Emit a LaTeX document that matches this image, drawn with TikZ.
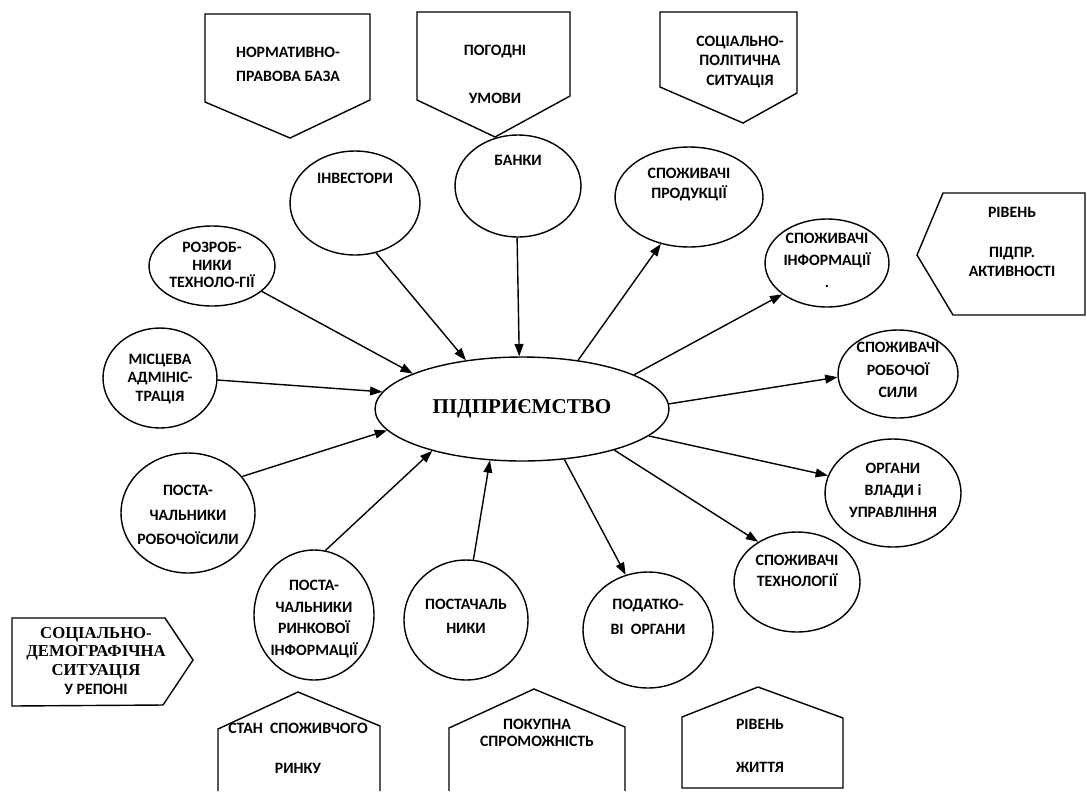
\documentclass[tikz,border=0pt]{standalone}
\usepackage{fontspec}
\setmainfont{Carlito}
\newfontfamily\timesfont{Liberation Serif}
\usetikzlibrary{shapes.geometric, arrows.meta}

\begin{document}
\begin{tikzpicture}[x=0.02cm, y=-0.02cm,
  circ/.style 2 args={ellipse, draw, line width=0.8pt, minimum width=#1cm, minimum height=#2cm, inner sep=0pt},
  lbl/.style={font=\bfseries\fontsize{9}{#1}\selectfont, align=center, inner sep=0pt},
  lbl/.default=12,
  box/.style={draw, line width=0.8pt},
  arr/.style={-{Triangle[length=7pt, width=5pt]}, line width=0.8pt}]
\useasboundingbox (0,0) rectangle (1087,791);

% Outer factors - boxes at the top
\draw[box] (205,14) -- (370,14) -- (370,100) -- (290,138) -- (205,102) -- cycle;
\node[lbl=13.7] (normbaza) at (288,64) {НОРМАТИВНО-\\ПРАВОВА БАЗА};
\draw[box] (417,12) -- (570,12) -- (570,96) -- (495,137) -- (417,100) -- cycle;
\node[lbl=27.4] (pogoda) at (495,74) {ПОГОДНІ\\УМОВИ};
\draw[box] (660,12) -- (797,12) -- (797,93) -- (743,123) -- (660,87) -- cycle;
\node[lbl=11] (socpol) at (740,62) {СОЦІАЛЬНО-\\ПОЛІТИЧНА\\СИТУАЦІЯ};

% Outer factors - side boxes
\draw[box] (917,255) -- (943,193) -- (1085,193) -- (1085,315) -- (953,315) -- cycle;
\node[lbl=10.8] (aktyv) at (1012,242) {РІВЕНЬ\\[12pt]ПІДПР.\\АКТИВНОСТІ};
\draw[box] (12,618) -- (165,618) -- (193,660) -- (163,705) -- (12,706) -- cycle;
\node[lbl=10.8] (socdem) at (96,661) {{\timesfont\fontsize{9.5}{10.8}\selectfont СОЦІАЛЬНО-}\\{\timesfont\fontsize{9.5}{10.8}\selectfont ДЕМОГРАФІЧНА}\\{\timesfont\fontsize{9.5}{10.8}\selectfont СИТУАЦІЯ}\\У РЕПОНІ};

% Outer factors - boxes at the bottom
\draw[box] (218,791) -- (218,729) -- (298,692) -- (380,726) -- (380,791);
\node[lbl=22.8] (rynok) at (298,748) {СТАН\ \ СПОЖИВЧОГО\\РИНКУ};
\draw[box] (449,791) -- (449,728) -- (534,689) -- (625,727) -- (625,791);
\node[lbl=9.9] (pokup) at (537,733) {ПОКУПНА\\СПРОМОЖНІСТЬ};
\draw[box] (682,717) -- (758,687) -- (843,718) -- (843,788) -- (682,788) -- cycle;
\node[lbl=24.5] (zhyttia) at (760,746) {РІВЕНЬ\\ЖИТТЯ};

% Centre
\node[circ={5.88}{2.08}, font=\timesfont\bfseries\fontsize{12}{14}\selectfont] (pidpr) at (522,409) {ПІДПРИЄМСТВО};

% Partners round the centre
\node[circ={2.52}{1.6}] (rozrob) at (212,266) {};
\node[lbl=9.9] (rozrobT) at (212,265) {РОЗРОБ-\\НИКИ\\ТЕХНОЛО-ГІЇ};
\node[circ={2.6}{2.08}] (invest) at (355,203) {};
\node[lbl] (investT) at (355,178) {ІНВЕСТОРИ};
\node[circ={2.52}{2.04}] (banky) at (518,186) {};
\node[lbl] (bankyT) at (518,160) {БАНКИ};
\node[circ={2.96}{2.0}] (spprod) at (689,197) {};
\node[lbl=11.4] (spprodT) at (689,185) {СПОЖИВАЧІ\\ПРОДУКЦІЇ};
\node[circ={2.48}{1.76}] (spinf) at (827,263) {};
\node[lbl=12.5] (spinfT) at (827,260) {СПОЖИВАЧІ\\ІНФОРМАЦІЇ\\.};
\node[circ={2.4}{1.76}] (sprob) at (898,374) {};
\node[lbl=12.8] (sprobT) at (898,370) {СПОЖИВАЧІ\\РОБОЧОЇ\\СИЛИ};
\node[circ={2.72}{2.16}] (organy) at (893,493) {};
\node[lbl=12.5] (organyT) at (893,490) {ОРГАНИ\\ВЛАДИ і\\УПРАВЛІННЯ};
\node[circ={2.52}{2.0}] (sptech) at (797,582) {};
\node[lbl=12] (sptechT) at (797,571) {СПОЖИВАЧІ\\ТЕХНОЛОГІЇ};
\node[circ={2.6}{2.32}] (podat) at (648,630) {};
\node[lbl=14] (podatT) at (648,617) {ПОДАТКО-\\ВІ\ \ ОРГАНИ};
\node[circ={2.48}{2.4}] (postach) at (466,620) {};
\node[lbl=13.7] (postachT) at (466,616) {ПОСТАЧАЛЬ\\НИКИ};
\node[circ={2.4}{2.6}] (rynk) at (314,615) {};
\node[lbl=12.3] (rynkT) at (314,619) {ПОСТА-\\ЧАЛЬНИКИ\\РИНКОВОЇ\\ІНФОРМАЦІЇ};
\node[circ={2.68}{2.4}] (robsyl) at (188,513) {};
\node[lbl=14] (robsylT) at (188,515) {ПОСТА-\\ЧАЛЬНИКИ\\РОБОЧОЇСИЛИ};
\node[circ={2.28}{2.0}] (mists) at (160,378) {};
\node[lbl=10.8] (mistsT) at (160,379) {МІСЦЕВА\\АДМІНІС-\\ТРАЦІЯ};

% Arrows in
\draw[arr] (rozrob.-27) -- (pidpr.162);
\draw[arr] (invest.-67) -- (pidpr.139);
\draw[arr] (banky.-91) -- (pidpr.93);
\draw[arr] (postach.83) -- (pidpr.-122);
\draw[arr] (rynk.80) -- (pidpr.-155);
\draw[arr] (robsyl.34) -- (pidpr.189);
\draw[arr] (mists.-2) -- (pidpr.173);
% Arrows out
\draw[arr] (pidpr.41) -- (spprod.239);
\draw[arr] (pidpr.17) -- (spinf.215);
\draw[arr] (pidpr.2) -- (sprob.183);
\draw[arr] (pidpr.-12) -- (organy.165);
\draw[arr] (pidpr.-24) -- (sptech.134);
\draw[arr] (pidpr.-50) -- (podat.112);
\end{tikzpicture}
\end{document}
